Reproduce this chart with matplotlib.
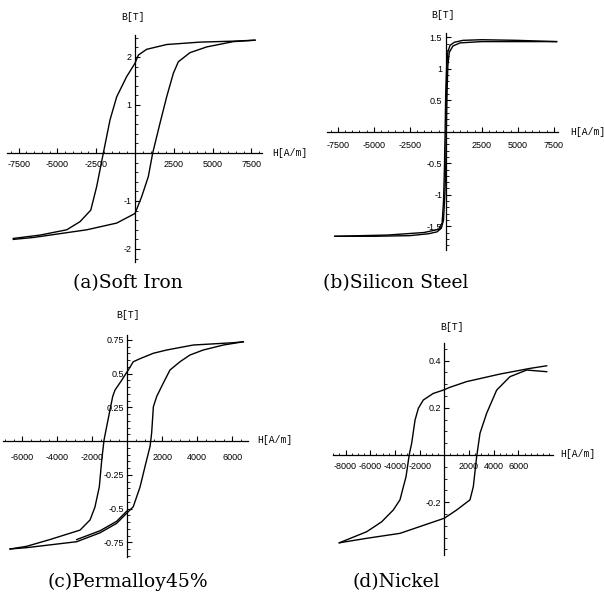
import matplotlib
matplotlib.use("Agg")
import matplotlib.pyplot as plt
from matplotlib.ticker import FixedLocator, MultipleLocator

# --- datos (H en A/m, B en T) ---
# (a) Soft Iron
iron_h_down = [7730, 6330, 4190, 2040, 750, 215, 0, -540, -1180, -1610, -2040, -2470, -2850, -3540, -4400, -6120, -7840]
iron_b_down = [2.35, 2.33, 2.31, 2.26, 2.16, 2.04, 1.87, 1.59, 1.17, 0.69, 0.0, -0.70, -1.19, -1.43, -1.60, -1.71, -1.78]
iron_h_up = [-7840, -6550, -3110, -1180, 0, 430, 860, 1140, 1610, 2040, 2470, 2790, 3540, 4620, 6330, 7730]
iron_b_up = [-1.80, -1.76, -1.60, -1.46, -1.26, -0.91, -0.49, 0.0, 0.62, 1.17, 1.66, 1.90, 2.09, 2.21, 2.32, 2.35]

# (b) Silicon Steel
steel_h_down = [7700, 5000, 2500, 1200, 600, 300, 150, 60, 0, -40, -90, -150, -250, -500, -1500, -4000, -7700]
steel_b_down = [1.43, 1.45, 1.46, 1.45, 1.42, 1.37, 1.27, 1.0, 0.6, 0.0, -0.6, -1.1, -1.45, -1.55, -1.60, -1.64, -1.66]
steel_h_up = [-7700, -5000, -2500, -1200, -600, -300, -150, -60, 0, 40, 90, 150, 250, 500, 1000, 2500, 5000, 7700]
steel_b_up = [-1.66, -1.66, -1.65, -1.62, -1.59, -1.53, -1.40, -1.0, -0.6, 0.0, 0.6, 1.05, 1.26, 1.36, 1.41, 1.43, 1.43, 1.43]

# (c) Permalloy45%
perm_h_down = [6630, 6060, 3770, 2250, 1490, 730, 340, 57, -76, -320, -700, -834, -990, -1220, -1330, -1460, -1600, -1850, -2130, -2700, -4420, -5750, -6700]
perm_b_down = [0.735, 0.728, 0.711, 0.674, 0.65, 0.61, 0.587, 0.526, 0.50, 0.45, 0.378, 0.33, 0.23, 0.08, 0.007, -0.14, -0.34, -0.49, -0.585, -0.66, -0.73, -0.78, -0.80]
perm_h_up = [-6700, -5750, -2890, -1560, -610, -34, 340, 730, 1010, 1300, 1390, 1490, 1680, 2060, 2440, 3010, 3580, 4340, 5490, 6630]
perm_b_up = [-0.80, -0.79, -0.746, -0.68, -0.61, -0.535, -0.487, -0.34, -0.19, -0.04, 0.057, 0.254, 0.33, 0.43, 0.526, 0.587, 0.637, 0.674, 0.711, 0.735]
perm_h_up2 = [-2890, -1560, -610, -34]
perm_b_up2 = [-0.73, -0.665, -0.595, -0.52]

# (d) Nickel
nickel_h_down = [8290, 6940, 4510, 1810, 460, -80, -890, -1700, -2100, -2370, -2640, -2830, -3100, -3590, -4130, -5070, -6280, -8500]
nickel_b_down = [0.378, 0.367, 0.343, 0.311, 0.287, 0.275, 0.261, 0.233, 0.198, 0.148, 0.050, 0.004, -0.092, -0.19, -0.233, -0.283, -0.325, -0.372]
nickel_h_up = [-8500, -6280, -3590, 0, 1000, 2080, 2350, 2620, 2890, 3430, 4240, 5320, 6670, 8290]
nickel_b_up = [-0.372, -0.353, -0.332, -0.268, -0.233, -0.19, -0.134, -0.007, 0.092, 0.177, 0.275, 0.332, 0.36, 0.353]

W, H = 604, 600


def panel(fig, box, origin, px_h, px_b, curves, xt, yt, xminor, yminor,
          caption, cap_xy, b_xy, h_xy, xpad=2.5):
    # box = (x0, x1, y0, y1) en pixeles, origin = pixel del (0, 0)
    x0, x1, y0, y1 = box
    ox, oy = origin
    ax = fig.add_axes([x0 / W, 1 - y1 / H, (x1 - x0) / W, (y1 - y0) / H])
    ax.set_xlim((x0 - ox) / px_h, (x1 - ox) / px_h)
    ax.set_ylim((oy - y1) / px_b, (oy - y0) / px_b)
    ax.patch.set_alpha(0)

    for hs, bs in curves:
        ax.plot(hs, bs, color="black", linewidth=1.0)

    ax.spines["left"].set_position(("data", 0))
    ax.spines["bottom"].set_position(("data", 0))
    ax.spines["top"].set_visible(False)
    ax.spines["right"].set_visible(False)
    for s in ("left", "bottom"):
        ax.spines[s].set_linewidth(0.9)

    ax.xaxis.set_major_locator(FixedLocator(xt))
    ax.yaxis.set_major_locator(FixedLocator(yt))
    ax.xaxis.set_minor_locator(MultipleLocator(xminor))
    ax.yaxis.set_minor_locator(MultipleLocator(yminor))
    ax.set_xticklabels([f"{v:g}" for v in xt])
    ax.set_yticklabels([f"{v:g}" for v in yt])
    ax.tick_params(which="major", direction="in", length=3.5, width=0.8,
                   labelsize=6.5, pad=2.5)
    ax.tick_params(axis="x", which="major", pad=xpad)
    ax.tick_params(which="minor", direction="in", length=1.8, width=0.6)
    for lab in ax.get_xticklabels() + ax.get_yticklabels():
        lab.set_family("Liberation Sans")

    fig.text(b_xy[0] / W, 1 - b_xy[1] / H, "B[T]", ha="center", va="center",
             family="Liberation Mono", fontsize=7)
    fig.text(h_xy[0] / W, 1 - h_xy[1] / H, "H[A/m]", ha="left", va="center",
             family="Liberation Mono", fontsize=7)
    fig.text(cap_xy[0] / W, 1 - cap_xy[1] / H, caption, ha="center",
             va="center", family="DejaVu Serif", fontsize=13.5)
    return ax


def main():
    fig = plt.figure(figsize=(W / 100, H / 100), dpi=100)

    panel(fig, (7, 262, 35, 262), (135, 153), 38.8 / 2500, 48,
          [(iron_h_down, iron_b_down), (iron_h_up, iron_b_up)],
          [-7500, -5000, -2500, 2500, 5000, 7500], [-2, -1, 1, 2], 500, 0.2,
          "(a)Soft Iron", (128, 283), (133, 17), (272, 153), xpad=5)

    panel(fig, (327, 558, 33, 250), (445.7, 131.7), 36 / 2500, 63,
          [(steel_h_down, steel_b_down), (steel_h_up, steel_b_up)],
          [-7500, -5000, -2500, 2500, 5000, 7500],
          [-1.5, -1, -0.5, 0.5, 1, 1.5], 500, 0.1,
          "(b)Silicon Steel", (396, 283), (443, 15), (570, 132), xpad=6.5)

    panel(fig, (3, 248, 335, 557), (127.3, 441), 35 / 2000, 135,
          [(perm_h_down, perm_b_down), (perm_h_up, perm_b_up),
           (perm_h_up2, perm_b_up2)],
          [-6000, -4000, -2000, 2000, 4000, 6000],
          [-0.75, -0.5, -0.25, 0.25, 0.5, 0.75], 500, 0.05,
          "(c)Permalloy45%", (128, 582), (128, 315), (257, 440), xpad=9)

    panel(fig, (333, 553, 343, 555), (444.3, 455), 24.7 / 2000, 236,
          [(nickel_h_down, nickel_b_down), (nickel_h_up, nickel_b_up)],
          [-8000, -6000, -4000, -2000, 2000, 4000, 6000], [-0.2, 0.2, 0.4],
          500, 0.05,
          "(d)Nickel", (396, 582), (452, 327), (560, 454), xpad=5)

    fig.savefig("out.png", dpi=100, facecolor="white")


if __name__ == "__main__":
    main()
